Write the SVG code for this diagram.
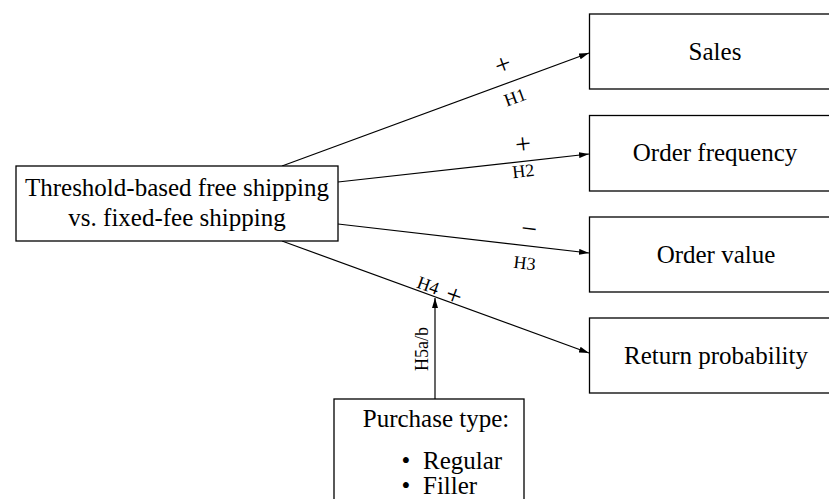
<svg xmlns="http://www.w3.org/2000/svg" width="829" height="499" viewBox="0 0 829 499">
  <defs>
    <marker id="arrow" viewBox="0 0 10 6" refX="10" refY="3" markerWidth="10" markerHeight="6" markerUnits="userSpaceOnUse" orient="auto">
      <path d="M0,0 L10,3 L0,6 Z" fill="#000"/>
    </marker>
    <style>
      .box { fill: #fff; stroke: #000; stroke-width: 1.3; }
      .txt { font-family: "Liberation Serif", "Times New Roman", serif; font-size: 25px; fill: #000; text-anchor: middle; }
      .lbl { font-family: "Liberation Serif", "Times New Roman", serif; font-size: 18px; fill: #000; text-anchor: middle; }
      .sign { font-family: "Liberation Serif", "Times New Roman", serif; font-size: 28px; fill: #000; text-anchor: middle; }
      .edge { stroke: #000; stroke-width: 1.2; fill: none; marker-end: url(#arrow); }
    </style>
  </defs>
  <rect width="829" height="499" fill="#fff"/>

  <!-- connectors with their hypothesis labels -->
  <g id="connectors">
    <line class="edge" x1="282" y1="166" x2="589" y2="53"/>
    <line class="edge" x1="338" y1="182" x2="589" y2="154"/>
    <line class="edge" x1="338" y1="224" x2="589" y2="253"/>
    <line class="edge" x1="282" y1="241" x2="589" y2="353"/>
    <line class="edge" x1="435" y1="399" x2="435" y2="298"/>

    <text class="sign" transform="translate(506,73) rotate(-20)">+</text>
    <text class="lbl" transform="translate(517,103) rotate(-20)">H1</text>
    <text class="sign" transform="translate(524,153) rotate(-6.6)">+</text>
    <text class="lbl" transform="translate(524,177) rotate(-6.6)">H2</text>
    <text class="sign" transform="translate(528,238) rotate(6.6)">−</text>
    <text class="lbl" transform="translate(524,269) rotate(6.6)">H3</text>
    <text class="lbl" transform="translate(426,291) rotate(20)">H4</text>
    <text class="sign" transform="translate(451,304) rotate(20)">+</text>
    <text class="lbl" transform="translate(428,349) rotate(-90)">H5a/b</text>
  </g>

  <!-- source node -->
  <g id="shipping">
    <rect class="box" x="16" y="166" width="322" height="75"/>
    <text class="txt" x="177" y="196">Threshold-based free shipping</text>
    <text class="txt" x="177" y="226">vs. fixed-fee shipping</text>
  </g>

  <!-- outcome nodes -->
  <g id="sales">
    <rect class="box" x="589.5" y="14" width="260" height="75"/>
    <text class="txt" x="715" y="60">Sales</text>
  </g>
  <g id="order-frequency">
    <rect class="box" x="589.5" y="115.5" width="260" height="75.5"/>
    <text class="txt" x="715" y="161">Order frequency</text>
  </g>
  <g id="order-value">
    <rect class="box" x="589.5" y="217" width="260" height="75"/>
    <text class="txt" x="716" y="263">Order value</text>
  </g>
  <g id="return-probability">
    <rect class="box" x="589.5" y="318" width="260" height="75"/>
    <text class="txt" x="716" y="364">Return probability</text>
  </g>

  <!-- moderator node -->
  <g id="purchase-type">
    <rect class="box" x="334" y="399" width="190" height="120"/>
    <text class="txt" x="436" y="427">Purchase type:</text>
    <text class="txt" x="406" y="469">•</text>
    <text class="txt" x="423" y="469" style="text-anchor:start">Regular</text>
    <text class="txt" x="406" y="494">•</text>
    <text class="txt" x="423" y="494" style="text-anchor:start">Filler</text>
  </g>
</svg>
